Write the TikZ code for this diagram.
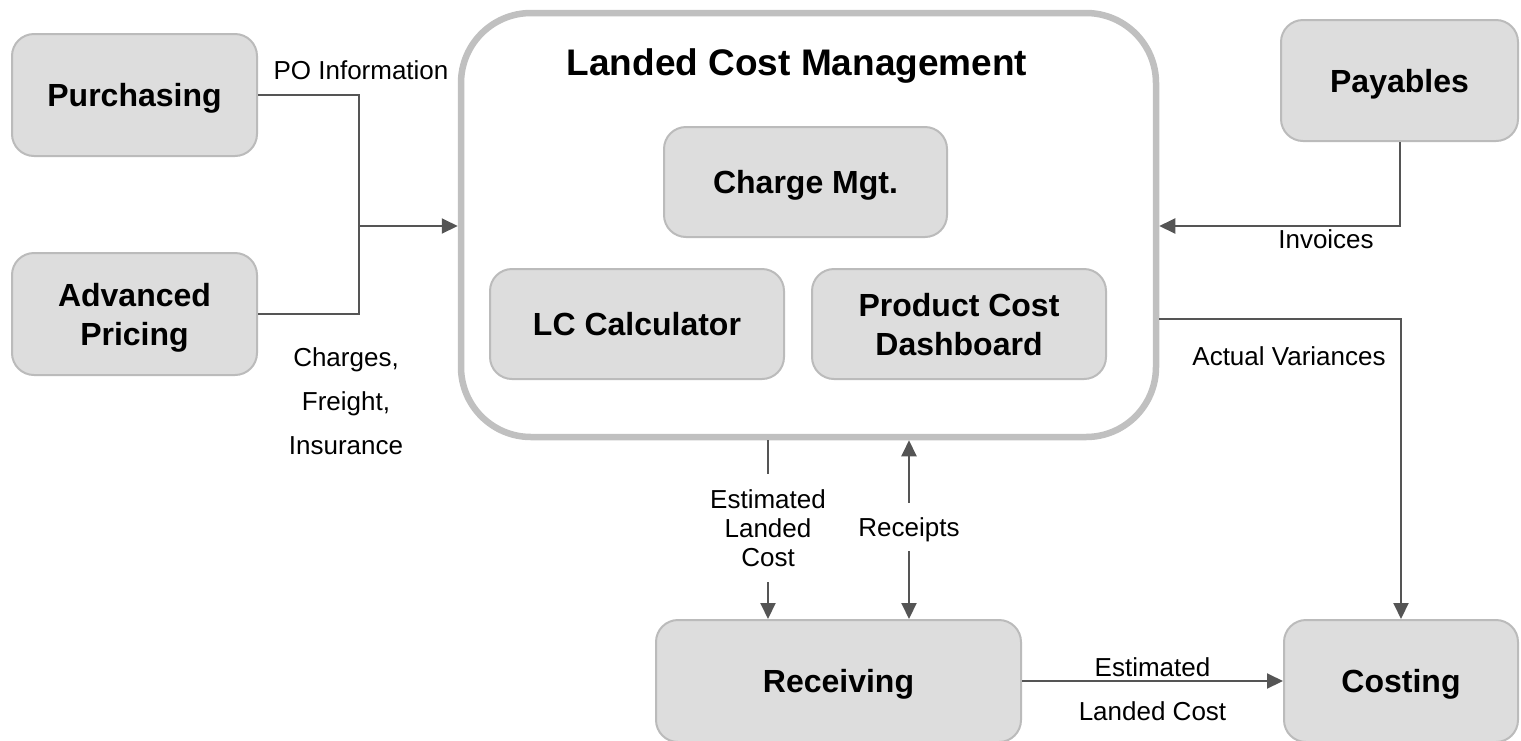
\documentclass[tikz,border=0pt]{standalone}
\usepackage{fontspec}
\setmainfont{Liberation Sans}
\usetikzlibrary{arrows.meta}
\definecolor{boxfill}{HTML}{DDDDDD}
\definecolor{boxline}{HTML}{BBBBBB}
\definecolor{bigline}{HTML}{C0C0C0}
\definecolor{wire}{HTML}{555555}

\begin{document}
\begin{tikzpicture}[x=1pt, y=-1pt,
  box/.style={draw=boxline, fill=boxfill, line width=2pt, rounded corners=22pt, align=center, text depth=0pt, font=\bfseries\fontsize{32}{39}\selectfont},
  bigbox/.style={draw=bigline, fill=white, line width=6.5pt, rounded corners=70pt},
  lbl/.style={align=center, font=\fontsize{26}{29}\selectfont},
  wireline/.style={draw=wire, line width=2pt},
  wirearrow/.style={wireline, -{Triangle[length=16pt, width=15pt]}}]

\useasboundingbox (0,0) rectangle (1521,740);

\node[bigbox, minimum width=695pt, minimum height=424pt] (lcm) at (808.5,225) {};
\node[text depth=0pt, font=\bfseries\fontsize{37}{44}\selectfont] (lcmtitle) at (797,62) {Landed Cost Management};

\node[box, minimum width=283pt, minimum height=110pt] (chmgt) at (805.5,182) {Charge Mgt.};
\node[box, minimum width=294pt, minimum height=110pt] (lccalc) at (637,324) {LC Calculator};
\node[box, minimum width=294pt, minimum height=110pt] (pcdash) at (959,324) {Product Cost\\Dashboard};

\node[box, minimum width=245pt, minimum height=122pt] (purch) at (134.5,95) {Purchasing};
\node[box, minimum width=245pt, minimum height=122pt] (advpr) at (134.5,314) {Advanced\\Pricing};
\node[box, minimum width=237pt, minimum height=121pt] (payab) at (1399.5,80.5) {Payables};
\node[box, minimum width=365pt, minimum height=122pt] (recv) at (838.5,681) {Receiving};
\node[box, minimum width=234pt, minimum height=122pt] (costg) at (1401,681) {Costing};

\node[lbl] (poinfo) at (361,70) {PO Information};
\node[lbl, font=\fontsize{26}{44}\selectfont] (chrg) at (346,401) {Charges,\\Freight,\\Insurance};
\node[lbl] (invc) at (1326,239) {Invoices};
\node[lbl] (actvar) at (1289,356) {Actual Variances};
\node[lbl, minimum height=108pt] (elc) at (768,528) {Estimated\\Landed\\Cost};
\node[lbl, text depth=0pt, minimum height=48pt] (rcp) at (909,527) {Receipts};

\coordinate (merge) at (358.5,226);
\draw[wireline] (purch.east) -| (merge);
\draw[wireline] (advpr.east) -| (merge);
\draw[wirearrow] (merge) -- (merge -| lcm.west);

\draw[wirearrow] (payab.south) |- (lcm.east |- merge);
\draw[wirearrow] (lcm.east |- 0,319) -| (costg.north);

\draw[wireline] (elc.north |- lcm.south) -- (elc.north);
\draw[wirearrow] (elc.south) -- (elc.south |- recv.north);
\draw[wirearrow] (rcp.north) -- (rcp.north |- lcm.south);
\draw[wirearrow] (rcp.south) -- (rcp.south |- recv.north);

\draw[wirearrow] (recv.east) -- node[lbl, above, inner sep=3pt] (estab) {Estimated}
  node[lbl, below, inner sep=20pt] (lcbel) {Landed Cost} (costg.west);

\end{tikzpicture}
\end{document}
